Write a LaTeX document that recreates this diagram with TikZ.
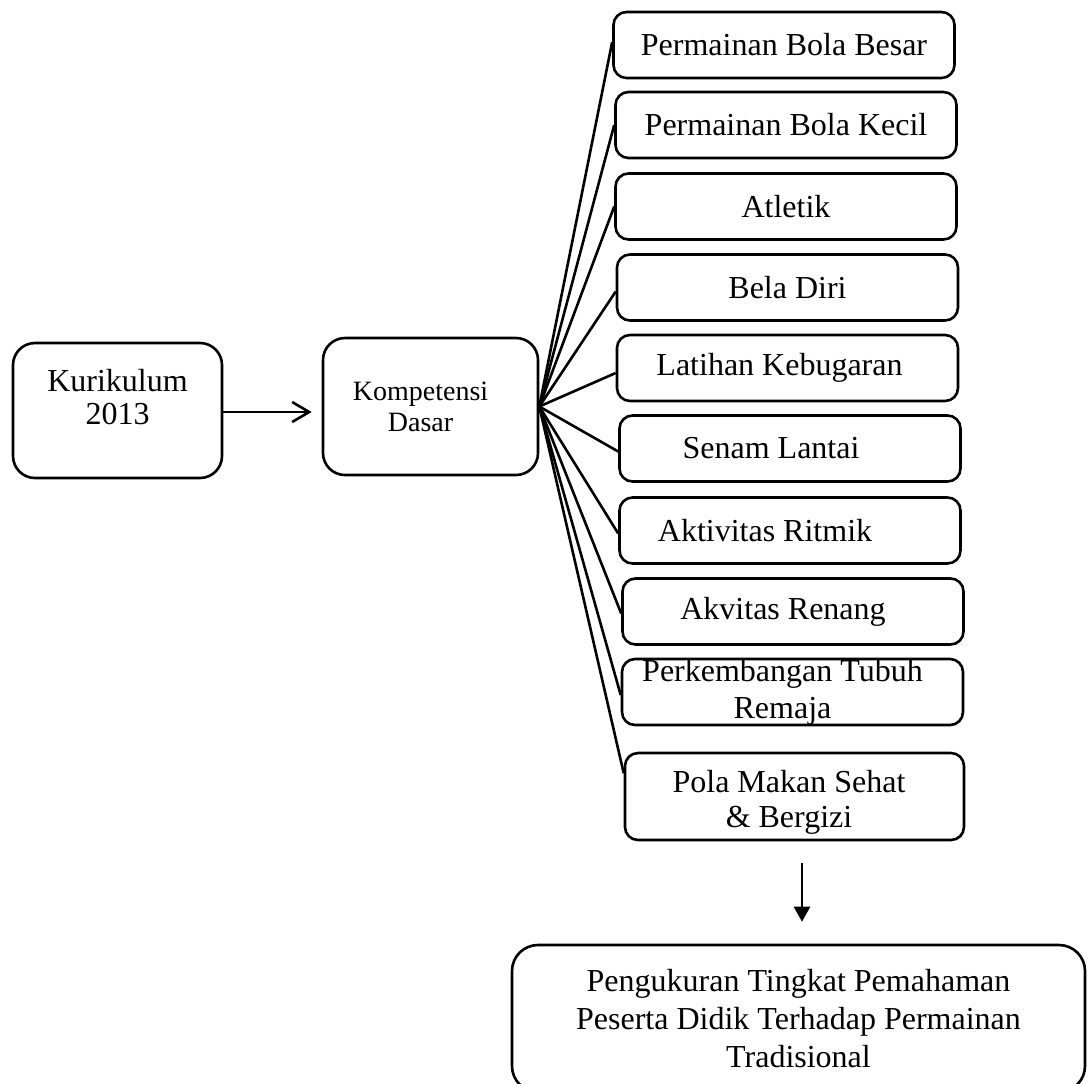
\documentclass[tikz,border=0pt]{standalone}
\usepackage{fontspec}
\setmainfont{Liberation Serif}
\usetikzlibrary{arrows.meta,calc}
\begin{document}
\begin{tikzpicture}[x=0.5pt,y=-0.5pt,
  lw/.style={line width=1.3pt},
  item/.style={draw,lw,rounded corners=6.5pt,minimum width=170.5pt,minimum height=33pt,
    inner sep=0pt,align=center,font=\fontsize{16}{18.5}\selectfont},
  bigbox/.style={draw,lw,rounded corners=11pt,inner sep=0pt},
  txt/.style={align=center,inner sep=0pt},
  openarrow/.style={-{Straight Barb[length=8.5pt,width=10pt,line width=1.3pt]}},
  fillarrow/.style={-{Triangle[length=7.5pt,width=8pt]}}
]
\useasboundingbox (0,0) rectangle (1090,1083);

% left boxes
\node[bigbox,minimum width=104.5pt,minimum height=67.5pt] (kur) at (117.5,410.5) {};
\node[txt,font=\fontsize{16}{16.5}\selectfont] (kurt) at (117.5,397.5) {Kurikulum\\2013};

\node[bigbox,minimum width=107.5pt,minimum height=68.5pt,align=center,
  font=\fontsize{14}{15.5}\selectfont] (kd) at (430.5,406.5) {Kompetensi\hspace*{10pt}\\Dasar\hspace*{10pt}};

% right column
\node[item] (b1) at (784,45) {Permainan Bola Besar};
\node[item] (b2) at (786,125) {Permainan Bola Kecil};
\node[item] (b3) at (786,206.5) {Atletik};
\node[item] (b4) at (787.5,287.5) {Bela Diri};
\node[item] (b5) at (787.5,368) {Latihan Kebugaran\hspace*{8pt}};
\node[item] (b6) at (790,448.5) {Senam Lantai\hspace*{19pt}};
\node[item] (b7) at (790,530.5) {Aktivitas Ritmik\hspace*{25pt}};
\node[item] (b8) at (793,611.5) {Akvitas Renang\hspace*{10pt}};
\node[item,font=\fontsize{16}{18.5}\selectfont] (b9) at (792.5,692) {Perkembangan Tubuh\hspace*{10pt}\\Remaja\hspace*{10pt}};
\node[item,minimum width=169.5pt,minimum height=43.5pt] (b10) at (794.5,796.5) {};
\node[txt,font=\fontsize{16}{17.5}\selectfont] (b10t) at (789,802) {Pola Makan Sehat\\\& Bergizi};

% bottom box
\node[bigbox,rounded corners=13pt,minimum width=286.5pt,minimum height=73.5pt] (peng) at (798.5,1018.5) {};
\node[txt,font=\fontsize{16}{19}\selectfont] (pengt) at (798.5,1018.5)
  {Pengukuran Tingkat Pemahaman\\Peserta Didik Terhadap Permainan\\Tradisional};

% connectors
\draw[lw,openarrow,shorten >=5pt] (kur.east |- 0,412) -- (kd.west |- 0,412);

\foreach \b/\dy in {b1/-3,b2/0,b3/0,b4/4,b5/5,b6/3,b7/3,b8/2,b9/3}
  \draw[lw] (kd.east) -- ($(\b.west)+(0,\dy)$);
\coordinate (b10in) at ($(b10.north west)!0.24!(b10.south west)$);
\draw[lw] (kd.east) -- (b10in);

\draw[lw,fillarrow] ([xshift=3.75pt,yshift=-11pt]b10.south) -- ([xshift=1.75pt,yshift=11pt]peng.north);
\end{tikzpicture}
\end{document}
